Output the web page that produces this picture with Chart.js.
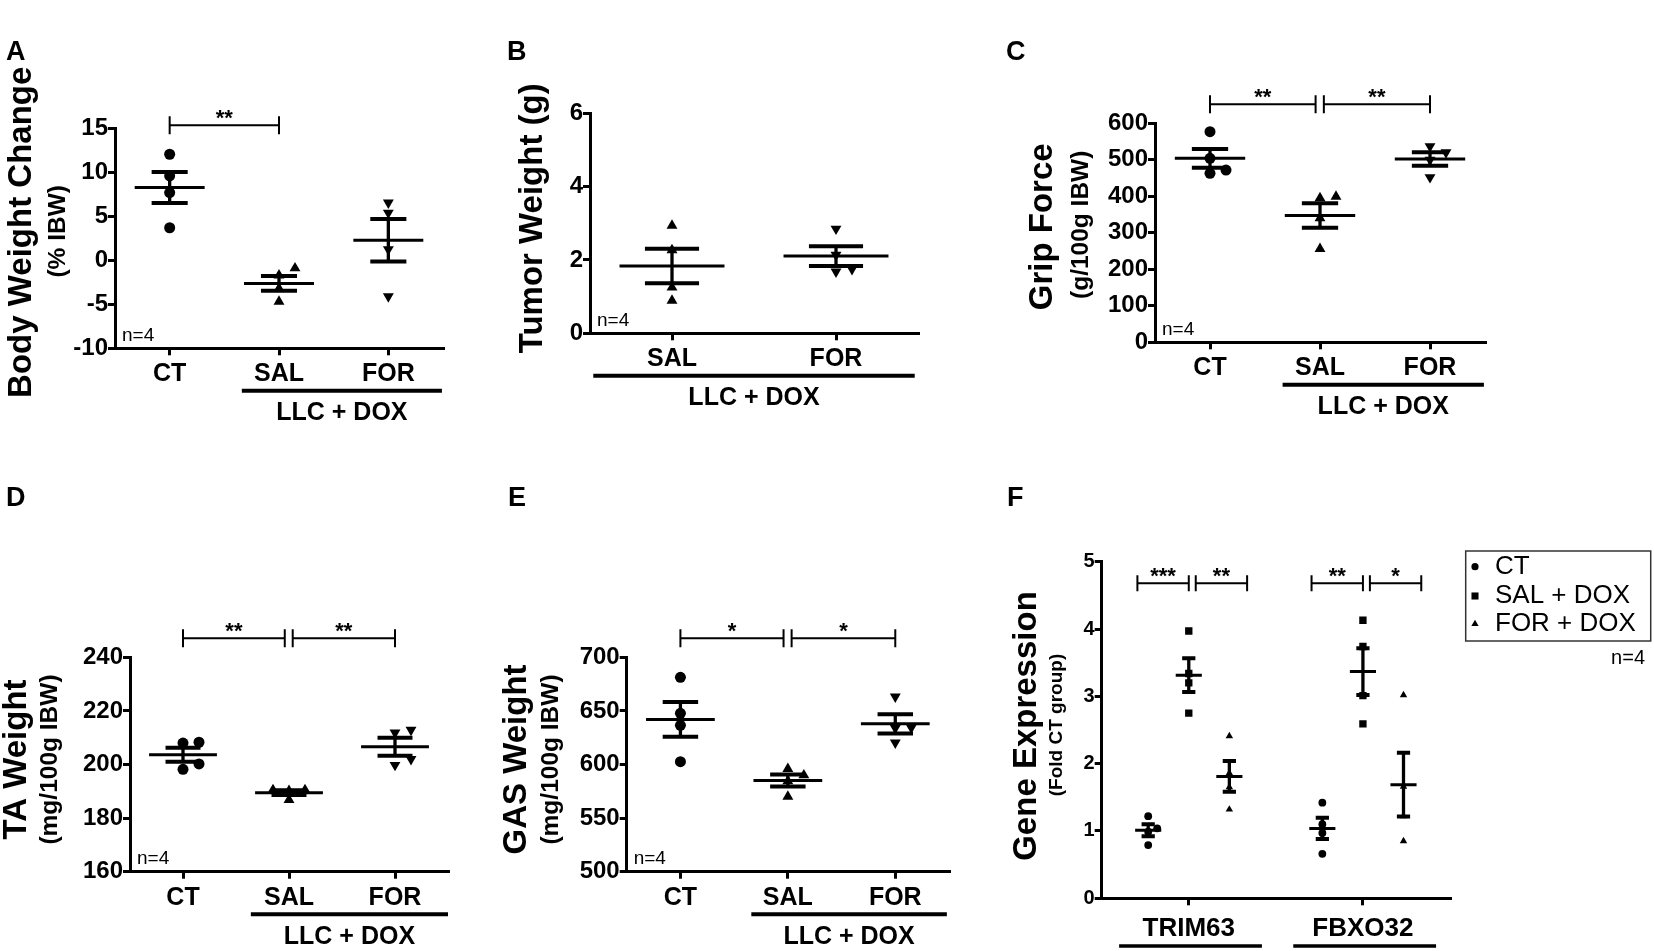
<!DOCTYPE html>
<html>
<head>
<meta charset="utf-8">
<script src="https://cdn.jsdelivr.net/npm/chart.js@4.4.1/dist/chart.umd.min.js"></script>
<style>
  html, body { margin: 0; padding: 0; background: #fff; }
  body { width: 1654px; height: 951px; position: relative; overflow: hidden; }
  canvas { position: absolute; }
  .letter { position: absolute; font: bold 27px "Liberation Sans", Arial, sans-serif; line-height: 1; color: #000; }
</style>
</head>
<body>
<canvas id="pA"></canvas>
<canvas id="pB"></canvas>
<canvas id="pC"></canvas>
<canvas id="pD"></canvas>
<canvas id="pE"></canvas>
<canvas id="pF"></canvas>
<div class="letter" style="left:6px;top:38px">A</div>
<div class="letter" style="left:507px;top:38px">B</div>
<div class="letter" style="left:1006px;top:38px">C</div>
<div class="letter" style="left:6px;top:484px">D</div>
<div class="letter" style="left:508px;top:484px">E</div>
<div class="letter" style="left:1007px;top:484px">F</div>
<script>
// categories
const cats3 = ['CT', 'SAL', 'FOR'];
const catsTumor = ['SAL', 'FOR'];
const genes = ['TRIM63', 'FBXO32'];
const groupNames = ['CT', 'SAL + DOX', 'FOR + DOX'];
const groupLabel = 'LLC + DOX';
const nLabel = 'n=4';

// A - body weight change (% IBW)
const bwCT = [12.05, 9.6, 7.7, 3.7];
const bwSAL = [-0.9, -1.7, -3.2, -4.7];
const bwFOR = [6.55, 5.4, 1.25, -4.1];
const ticksBW = [-10, -5, 0, 5, 10, 15];

// B - tumor weight (g)
const tumorSAL = [2.94, 2.27, 1.25, 0.89];
const tumorFOR = [2.85, 2.14, 1.75, 1.68];
const ticksTumor = [0, 2, 4, 6];

// C - grip force (g/100g IBW)
const gripCT = [577, 504, 472, 463];
const gripSAL = [399, 395, 340, 256];
const gripFOR = [537, 520, 500, 452];
const ticksGrip = [0, 100, 200, 300, 400, 500, 600];

// D - TA weight (mg/100g IBW)
const taCT = [208.3, 208, 200.2, 198.2];
const taSAL = [190.5, 190.5, 190.2, 186.8];
const taFOR = [212.9, 211.9, 202, 199.8];
const ticksTA = [160, 180, 200, 220, 240];

// E - GAS weight (mg/100g IBW)
const gasCT = [681.3, 647.7, 636.5, 602.6];
const gasSAL = [596, 590, 584.6, 570];
const gasFOR = [663.2, 634.3, 634, 620.3];
const ticksGAS = [500, 550, 600, 650, 700];

// F - gene expression (fold CT group)
const trimCT = [1.22, 1.04, 0.99, 0.79];
const trimSAL = [3.97, 3.34, 3.20, 2.75];
const trimFOR = [2.41, 1.86, 1.65, 1.32];
const fbxCT = [1.42, 1.10, 0.97, 0.66];
const fbxSAL = [4.13, 3.74, 3.01, 2.59];
const fbxFOR = [3.02, 1.66, 1.22, 0.85];
const ticksGene = [0, 1, 2, 3, 4, 5];

// significance: [from group, to group, label]
const sigBW = [[0, 1, '**']];
const sigGrip = [[0, 1, '**'], [1, 2, '**']];
const sigTA = [[0, 1, '**'], [1, 2, '**']];
const sigGAS = [[0, 1, '*'], [1, 2, '*']];
const sigGene = [['***', '**'], ['**', '*']];

const FT = '"Liberation Sans", Arial, sans-serif';

const avg = a => a.reduce((s, v) => s + v, 0) / a.length;
const sem = a => {
  const m = avg(a);
  return Math.sqrt(a.reduce((s, v) => s + (v - m) * (v - m), 0) / (a.length - 1)) / Math.sqrt(a.length);
};

// spread overlapping points sideways, like a column scatter
function jitter(vals, thr, d) {
  const order = vals.map((v, i) => i).sort((a, b) => vals[a] - vals[b]);
  const placed = [];
  const off = vals.map(() => 0);
  order.forEach(i => {
    for (const c of [0, d, -d, 2 * d, -2 * d]) {
      if (!placed.some(p => Math.abs(p.o - c) < d * 0.5 && Math.abs(p.v - vals[i]) < thr)) {
        off[i] = c;
        break;
      }
    }
    placed.push({ v: vals[i], o: off[i] });
  });
  return off;
}

function spans(sig) {
  return sig.map(([a, b, label]) => {
    let x1 = a, x2 = b;
    if (sig.some(s => s[0] === b)) x2 -= 0.04;
    if (sig.some(s => s[1] === a)) x1 += 0.035;
    return { x1, x2, label };
  });
}

const decor = {
  id: 'decor',
  afterDraw(chart, args, o) {
    const { ctx, chartArea: ca } = chart;
    const x = chart.scales.x;
    ctx.save();
    ctx.fillStyle = '#000';
    ctx.strokeStyle = '#000';
    const midY = (ca.top + ca.bottom) / 2;

    o.titles.forEach(t => {
      ctx.save();
      ctx.translate(ca.left + t.dx, midY + t.dy);
      ctx.rotate(-Math.PI / 2);
      ctx.font = t.font;
      ctx.textAlign = 'center';
      ctx.textBaseline = 'middle';
      ctx.fillText(t.text, 0, 0);
      ctx.restore();
    });

    if (o.n) {
      ctx.font = '19px ' + FT;
      ctx.textAlign = 'left';
      ctx.textBaseline = 'middle';
      ctx.fillText(o.n, ca.left + 7, ca.bottom - 13);
    }

    ctx.lineWidth = 2;
    (o.brackets || []).forEach(b => {
      const x1 = x.getPixelForValue(b.x1), x2 = x.getPixelForValue(b.x2);
      const by = ca.top + o.bracketDy, h = o.bracketTick;
      ctx.beginPath();
      ctx.moveTo(x1, by - h); ctx.lineTo(x1, by + h);
      ctx.moveTo(x1, by); ctx.lineTo(x2, by);
      ctx.moveTo(x2, by - h); ctx.lineTo(x2, by + h);
      ctx.stroke();
      ctx.font = 'bold 22px ' + FT;
      ctx.textAlign = 'center';
      ctx.textBaseline = 'alphabetic';
      ctx.fillText(b.label, (x1 + x2) / 2, by - 0.5);
    });

    (o.lines || []).forEach(g => {
      const x1 = x.getPixelForValue(g.x1), x2 = x.getPixelForValue(g.x2);
      const ly = ca.bottom + o.lineDy;
      ctx.lineWidth = o.lineWidth;
      ctx.beginPath();
      ctx.moveTo(x1, ly); ctx.lineTo(x2, ly);
      ctx.stroke();
      if (g.label) {
        ctx.font = 'bold 25px ' + FT;
        ctx.textAlign = 'center';
        ctx.textBaseline = 'middle';
        ctx.fillText(g.label, (x1 + x2) / 2, ly + 22.5);
      }
    });

    if (o.legend) {
      const L = o.legend, bx = o.box.x, byy = o.box.y;
      ctx.lineWidth = 1.5;
      ctx.strokeStyle = '#333';
      ctx.strokeRect(L.x - bx, L.y - byy, L.w, L.h);
      ctx.strokeStyle = '#000';
      L.rows.forEach((r, i) => {
        const ry = L.rowY[i] - byy;
        Chart.helpers.drawPoint(ctx, { pointStyle: r.style, radius: r.r, rotation: 0, borderWidth: 0 }, L.markerX - bx, ry);
        ctx.font = '26px ' + FT;
        ctx.textAlign = 'left';
        ctx.textBaseline = 'middle';
        ctx.fillStyle = '#000';
        ctx.fillText(r.label, L.textX - bx, ry);
      });
      ctx.font = '20px ' + FT;
      ctx.textAlign = 'right';
      ctx.fillText(L.n, L.nX - bx, L.nY - byy);
    }
    ctx.restore();
  }
};

function makePanel(id, cfg) {
  const el = document.getElementById(id);
  const b = cfg.box, a = cfg.area;
  el.width = b.w; el.height = b.h;
  el.style.left = b.x + 'px'; el.style.top = b.y + 'px';
  el.style.width = b.w + 'px'; el.style.height = b.h + 'px';

  const yMin = cfg.yTicks[0], yMax = cfg.yTicks[cfg.yTicks.length - 1];
  const pxX = (a.r - a.l) / (cfg.xMax - cfg.xMin);
  const thr = 8.5 * (yMax - yMin) / (a.b - a.t);
  const jit = cfg.jitPx / pxX;

  const datasets = cfg.groups.map(g => {
    const off = jitter(g.vals, thr, jit);
    return {
      data: g.vals.map((v, i) => ({ x: g.x + off[i], y: v })),
      pointStyle: g.style,
      pointRadius: g.r,
      pointRotation: g.rot || 0,
      backgroundColor: '#000',
      borderColor: '#000',
      borderWidth: 0,
      showLine: false
    };
  });
  const mean = [], caps = [], vert = [];
  cfg.groups.forEach(g => {
    const m = avg(g.vals), s = sem(g.vals);
    mean.push({ x: g.x - cfg.mw, y: m }, { x: g.x + cfg.mw, y: m }, { x: g.x, y: null });
    caps.push({ x: g.x - cfg.sw, y: m + s }, { x: g.x + cfg.sw, y: m + s }, { x: g.x, y: null },
              { x: g.x - cfg.sw, y: m - s }, { x: g.x + cfg.sw, y: m - s }, { x: g.x, y: null });
    vert.push({ x: g.x, y: m - s }, { x: g.x, y: m + s }, { x: g.x, y: null });
  });
  const line = (data, w) => ({
    data, showLine: true, pointRadius: 0, borderColor: '#000', borderWidth: w,
    spanGaps: false, borderCapStyle: 'butt', fill: false
  });
  datasets.push(line(mean, 3), line(caps, 4), line(vert, 3.3));

  const axisGrid = { display: true, drawOnChartArea: false, drawTicks: true, tickLength: 7, lineWidth: 3, color: '#000' };
  const axisBorder = { display: true, width: 3, color: '#000' };

  new Chart(el, {
    type: 'scatter',
    data: { datasets },
    options: {
      responsive: false,
      animation: false,
      devicePixelRatio: 1,
      layout: { padding: { left: 0, top: a.t - b.y, right: b.x + b.w - a.r, bottom: 0 } },
      plugins: {
        legend: { display: false },
        tooltip: { enabled: false },
        decor: {
          titles: cfg.titles, n: cfg.n, brackets: cfg.brackets, bracketDy: cfg.bracketDy,
          bracketTick: cfg.bracketTick || 9, lines: cfg.lines, lineDy: cfg.lineDy,
          lineWidth: cfg.lineWidth || 4, legend: cfg.legend, box: b
        }
      },
      scales: {
        x: {
          type: 'linear', min: cfg.xMin, max: cfg.xMax,
          afterBuildTicks: s => { s.ticks = cfg.xTicks.map(v => ({ value: v })); },
          afterFit: s => { s.height = b.y + b.h - a.b; },
          ticks: {
            callback: (v, i) => cfg.xLabels[i],
            font: { family: FT, size: cfg.xFont, weight: 'bold' },
            color: '#000', padding: cfg.xPad, maxRotation: 0, autoSkip: false
          },
          grid: axisGrid, border: axisBorder
        },
        y: {
          min: yMin, max: yMax,
          afterBuildTicks: s => { s.ticks = cfg.yTicks.map(v => ({ value: v })); },
          afterFit: s => { s.width = a.l - b.x; },
          ticks: { font: { family: FT, size: cfg.yFont, weight: 'bold' }, color: '#000', padding: 0 },
          grid: axisGrid, border: axisBorder
        }
      }
    },
    plugins: [decor]
  });
}

const common3 = { xMin: -0.5, xMax: 2.5, xTicks: [0, 1, 2], xLabels: cats3, xFont: 25, xPad: 4, yFont: 24,
  jitPx: 16, mw: 0.32, sw: 0.165, n: nLabel, lineDy: 42.5 };

makePanel('pA', Object.assign({}, common3, {
  box: { x: 0, y: 40, w: 470, h: 400 },
  area: { l: 115, t: 128.3, r: 443, b: 348.3 },
  yTicks: ticksBW,
  groups: [
    { x: 0, vals: bwCT, style: 'circle', r: 5.5 },
    { x: 1, vals: bwSAL, style: 'triangle', r: 6.3 },
    { x: 2, vals: bwFOR, style: 'triangle', r: 6.3, rot: 180 }
  ],
  titles: [
    { text: 'Body Weight Change', font: 'bold 33px ' + FT, dx: -93, dy: -6 },
    { text: '(% IBW)', font: 'bold 24.5px ' + FT, dx: -57, dy: -7 }
  ],
  brackets: spans(sigBW), bracketDy: -3,
  lines: [{ x1: 0.66, x2: 2.49, label: groupLabel }]
}));

makePanel('pB', Object.assign({}, common3, {
  box: { x: 480, y: 40, w: 460, h: 400 },
  area: { l: 590, t: 113.3, r: 918, b: 333.3 },
  xMin: -0.5, xMax: 1.5, xTicks: [0, 1], xLabels: catsTumor,
  yTicks: ticksTumor,
  groups: [
    { x: 0, vals: tumorSAL, style: 'triangle', r: 6.3 },
    { x: 1, vals: tumorFOR, style: 'triangle', r: 6.3, rot: 180 }
  ],
  titles: [{ text: 'Tumor Weight (g)', font: 'bold 33px ' + FT, dx: -57, dy: -5 }],
  brackets: [], bracketDy: 0,
  lines: [{ x1: -0.48, x2: 1.48, label: groupLabel }]
}));

makePanel('pC', Object.assign({}, common3, {
  box: { x: 960, y: 40, w: 540, h: 400 },
  area: { l: 1155, t: 123.3, r: 1485, b: 342.3 },
  yTicks: ticksGrip,
  groups: [
    { x: 0, vals: gripCT, style: 'circle', r: 5.5 },
    { x: 1, vals: gripSAL, style: 'triangle', r: 6.3 },
    { x: 2, vals: gripFOR, style: 'triangle', r: 6.3, rot: 180 }
  ],
  titles: [
    { text: 'Grip Force', font: 'bold 33px ' + FT, dx: -112, dy: -6 },
    { text: '(g/100g IBW)', font: 'bold 24.5px ' + FT, dx: -74, dy: -8 }
  ],
  brackets: spans(sigGrip), bracketDy: -19,
  lines: [{ x1: 0.66, x2: 2.49, label: groupLabel }]
}));

makePanel('pD', Object.assign({}, common3, {
  box: { x: 0, y: 480, w: 470, h: 471 },
  area: { l: 130, t: 657.3, r: 448, b: 871.7 },
  yTicks: ticksTA,
  groups: [
    { x: 0, vals: taCT, style: 'circle', r: 5.5 },
    { x: 1, vals: taSAL, style: 'triangle', r: 6.3 },
    { x: 2, vals: taFOR, style: 'triangle', r: 6.3, rot: 180 }
  ],
  titles: [
    { text: 'TA Weight', font: 'bold 33px ' + FT, dx: -113, dy: -5 },
    { text: '(mg/100g IBW)', font: 'bold 24.5px ' + FT, dx: -80, dy: -5 }
  ],
  brackets: spans(sigTA), bracketDy: -19,
  lines: [{ x1: 0.64, x2: 2.5, label: groupLabel }]
}));

makePanel('pE', Object.assign({}, common3, {
  box: { x: 470, y: 480, w: 490, h: 471 },
  area: { l: 626.7, t: 657.3, r: 949, b: 871.7 },
  yTicks: ticksGAS,
  groups: [
    { x: 0, vals: gasCT, style: 'circle', r: 5.5 },
    { x: 1, vals: gasSAL, style: 'triangle', r: 6.3 },
    { x: 2, vals: gasFOR, style: 'triangle', r: 6.3, rot: 180 }
  ],
  titles: [
    { text: 'GAS Weight', font: 'bold 33px ' + FT, dx: -110, dy: -5 },
    { text: '(mg/100g IBW)', font: 'bold 24.5px ' + FT, dx: -75, dy: -5 }
  ],
  brackets: spans(sigGAS), bracketDy: -19,
  lines: [{ x1: 0.66, x2: 2.48, label: groupLabel }]
}));

// F: three series per gene, placed around each gene's tick
const sub = 0.233;
const geneSeries = [[trimCT, trimSAL, trimFOR], [fbxCT, fbxSAL, fbxFOR]];
const seriesStyle = [
  { style: 'circle', r: 3.9 },
  { style: 'rect', r: 5.2 },
  { style: 'triangle', r: 4.3 }
];
const fGroups = [];
geneSeries.forEach((series, gi) => series.forEach((vals, k) => {
  fGroups.push(Object.assign({ x: gi + (k - 1) * sub, vals }, seriesStyle[k]));
}));
const fSpans = [[-0.295, 0], [0.04, 0.335]];
const fBrackets = [];
sigGene.forEach((labels, gi) => labels.forEach((lab, j) => {
  fBrackets.push({ x1: gi + fSpans[j][0], x2: gi + fSpans[j][1], label: lab });
}));

makePanel('pF', {
  box: { x: 960, y: 480, w: 694, h: 471 },
  area: { l: 1101.7, t: 561.7, r: 1450, b: 898.3 },
  xMin: -0.5, xMax: 1.5, xTicks: [0, 1], xLabels: genes, xFont: 26, xPad: 8, yFont: 20,
  yTicks: ticksGene, jitPx: 9, mw: 0.075, sw: 0.038,
  groups: fGroups,
  titles: [
    { text: 'Gene Expression', font: 'bold 33px ' + FT, dx: -75, dy: -4 },
    { text: '(Fold CT group)', font: 'bold 19px ' + FT, dx: -45, dy: -5 }
  ],
  brackets: fBrackets, bracketDy: 21.6, bracketTick: 8,
  lines: [{ x1: -0.4, x2: 0.42 }, { x1: 0.6, x2: 1.42 }], lineDy: 47.7, lineWidth: 3.5,
  legend: {
    x: 1465.7, y: 551, w: 185, h: 90,
    markerX: 1475, textX: 1495, rowY: [566.7, 596, 624],
    rows: groupNames.map((label, k) => ({
      label, style: seriesStyle[k].style,
      r: [3.6, 5, 4.2][k]
    })),
    n: nLabel, nX: 1645, nY: 658
  }
});
</script>
</body>
</html>
